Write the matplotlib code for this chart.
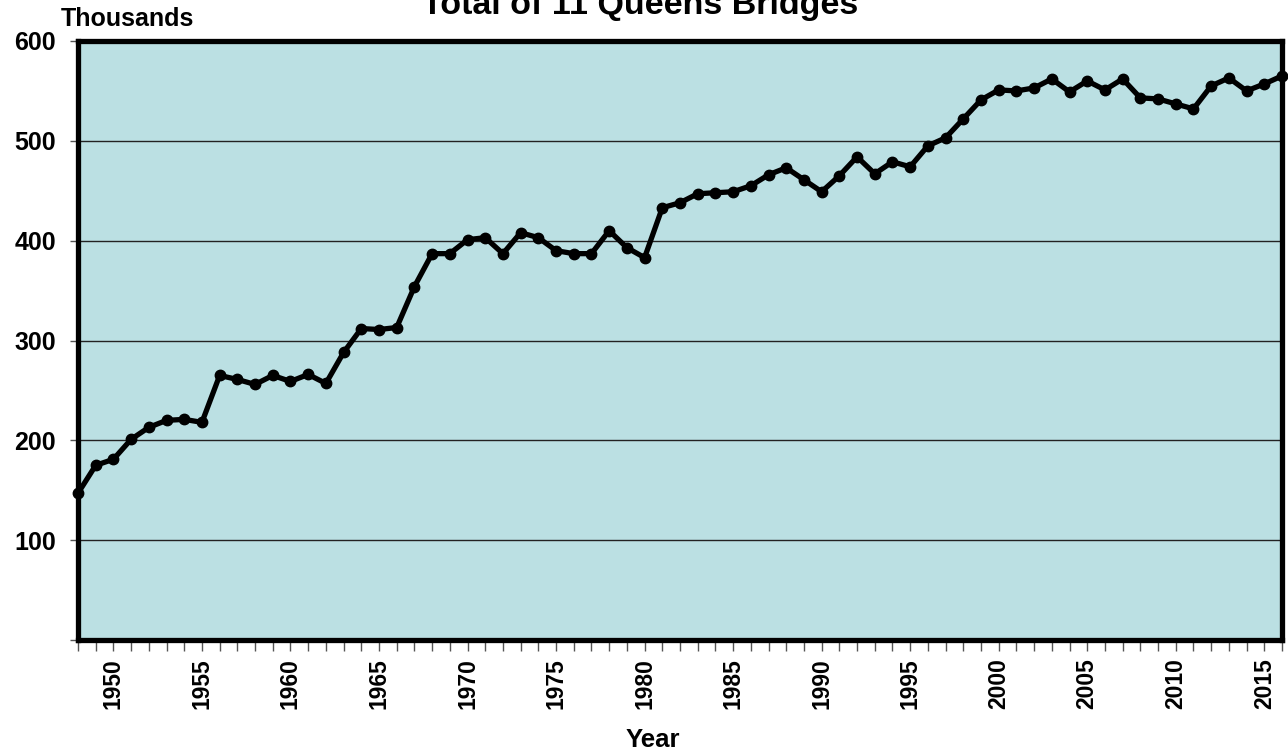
import matplotlib
matplotlib.use("Agg")
import matplotlib.pyplot as plt
import numpy as np

years = list(range(1948, 2017))
values = [147, 175, 181, 201, 213, 220, 221, 218, 265, 261,
          256, 265, 259, 266, 257, 288, 312, 311, 313, 354,
          387, 387, 401, 403, 387, 408, 403, 390, 387, 387,
          410, 393, 383, 433, 438, 447, 448, 449, 455, 466,
          473, 461, 449, 465, 484, 467, 479, 474, 495, 503,
          522, 541, 551, 550, 553, 562, 549, 560, 551, 562,
          543, 542, 537, 532, 555, 563, 550, 557, 565]
label_years = [1950, 1955, 1960, 1965, 1970, 1975, 1980, 1985, 1990, 1995, 2000, 2005, 2010, 2015]
y_ticks = [0, 100, 200, 300, 400, 500, 600]
y_labels = ["", "100", "200", "300", "400", "500", "600"]

plt.rcParams['font.family'] = ['Liberation Sans', 'DejaVu Sans']
plt.rcParams['font.weight'] = 'bold'

fig = plt.figure(figsize=(12.88, 7.53), dpi=100)
ax = fig.add_axes([78/1288, 1 - 640/753, (1282-78)/1288, (640-41)/753])
ax.set_facecolor('#BBE0E3')

ax.set_xlim(1948, 2016)
ax.set_ylim(0, 600)

ax.set_yticks(y_ticks)
ax.set_yticklabels(y_labels, fontsize=18, fontweight='bold')
for v in y_ticks[1:-1]:
    ax.axhline(v, color='#222222', lw=1.0, zorder=1)

ax.set_xticks(years, minor=True)
ax.set_xticks(label_years)
ax.set_xticklabels([str(y) for y in label_years], rotation=90, fontsize=16.5, fontweight='bold')
ax.tick_params(axis='x', which='both', length=8, width=1, color='#555555', pad=5, direction='out')
ax.tick_params(axis='y', length=6, width=1, color='#555555', pad=10)

ax.plot(years, values, color='black', lw=3.8, marker='o', markersize=7.5,
        zorder=3, clip_on=False)

for s in ax.spines.values():
    s.set_linewidth(3.8)
    s.set_color('black')
    s.set_zorder(4)

fig.text(653/1288, 1 - 740/753, 'Year', fontsize=18.5, fontweight='bold', ha='center', va='center')
fig.text(61/1288, 1 - 19/753, 'Thousands', fontsize=18, fontweight='bold', ha='left', va='center')
fig.text(640/1288, 1 - 14/753, 'Total of 11 Queens Bridges', fontsize=24.5, fontweight='bold',
         ha='center', va='baseline')

fig.savefig('out.png', dpi=100)
